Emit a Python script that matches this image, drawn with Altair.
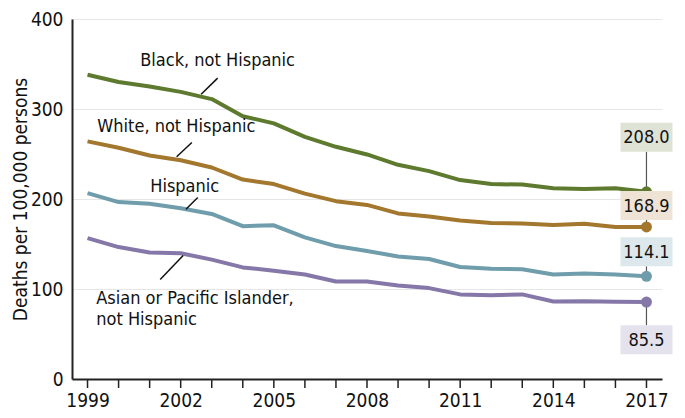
import altair as alt
import pandas as pd

years = list(range(1999, 2018))
label_years = [1999, 2002, 2005, 2008, 2011, 2014, 2017]
black = [338, 330, 325, 319, 311, 292, 284, 269, 258, 249.5, 238, 231, 221, 216.6, 216, 212, 211, 212, 208.0]
white = [264, 257, 248.4, 243, 235, 221.6, 216.6, 206, 197.6, 193.4, 184, 180.5, 176, 173.4, 172.7, 171, 172.6, 169, 168.9]
hisp = [206.6, 196.6, 194.8, 189.8, 183.4, 169.8, 170.8, 157.3, 147.7, 142.3, 136.2, 133.3, 124.4, 122.6, 122, 116.1, 117.2, 116.1, 114.1]
asian = [156.6, 146.6, 140.5, 139.8, 132.6, 124, 120.4, 116.1, 108.3, 108.3, 104, 101, 94, 93, 94, 86.1, 86.5, 85.8, 85.5]

series_names = ["Black, not Hispanic", "White, not Hispanic", "Hispanic", "Asian or Pacific Islander, not Hispanic"]
series_vals = [black, white, hisp, asian]
line_colors = ["#5e7a2f", "#a3772e", "#6f9dab", "#8577a8"]
box_colors = ["#dee3d5", "#eee3d4", "#dce8ec", "#e4e2ed"]
end_labels = ["208.0", "168.9", "114.1", "85.5"]
box_centers = [268.7, 192.7, 141.3, 43.5]

# series text labels (year, value)
lab_text = [["Black, not Hispanic"], ["White, not Hispanic"], ["Hispanic"],
            ["Asian or Pacific Islander,", "not Hispanic"]]
lab_x = [2003.19, 2001.86, 2002.13, 1999.28]
lab_y = [352.8, 280, 213.7, 87.5]
lab_align = ["center", "center", "center", "left"]
# leader lines
lead_x1 = [2003.19, 2002.36, 2002.55, 2002.08]
lead_y1 = [334.3, 262.7, 201.6, 137.3]
lead_x2 = [2002.66, 2001.87, 2002.17, 2001.34]
lead_y2 = [316.4, 247, 188.7, 110.5]

FONT = "'DejaVu Sans Condensed', 'Liberation Sans', sans-serif"
W, H = 590, 360
XDOM = [1998.5, 2017.5]
YDOM = [0, 400]
px_per_year = W / (XDOM[1] - XDOM[0])
px_per_unit = H / (YDOM[1] - YDOM[0])

rows = []
for n, vals in zip(series_names, series_vals):
    for yr, v in zip(years, vals):
        rows.append({"series": n, "year": yr, "value": v})
df = pd.DataFrame(rows)

xs = alt.Scale(domain=XDOM, nice=False, zero=False)
ys = alt.Scale(domain=YDOM, nice=False)
col = alt.Scale(domain=series_names, range=line_colors)

x_enc = alt.X("year:Q", scale=xs,
              axis=alt.Axis(values=label_years, format="d", labelOverlap=False,
                            grid=False, ticks=False,
                            domainColor="#222", domainWidth=2, labelFont=FONT, labelFontSize=19,
                            labelColor="#111", labelPadding=12, title=None, labelFlush=False))
y_enc = alt.Y("value:Q", scale=ys,
              axis=alt.Axis(values=[0, 100, 200, 300, 400], grid=True, gridColor="#e6e6e6",
                            gridWidth=1.2, ticks=False, domainColor="#222", domainWidth=2,
                            labelFont=FONT, labelFontSize=19, labelColor="#111", labelPadding=9,
                            labelOverlap=False,
                            title="Deaths per 100,000 persons", titleFont=FONT, titleFontSize=19,
                            titleFontWeight="normal", titleColor="#111", titleAngle=270,
                            titleAlign="center", titleBaseline="middle", titleX=-52, titleY=180))

lines = alt.Chart(df).mark_line(strokeWidth=4, strokeJoin="round").encode(
    x=x_enc, y=y_enc, color=alt.Color("series:N", scale=col, legend=None), detail="series:N")

tick_df = pd.DataFrame({"year": years})
ticks = alt.Chart(tick_df).mark_rule(color="#222", strokeWidth=1.5).encode(
    x=alt.X("year:Q", scale=xs), y=alt.value(H), y2=alt.value(H + 9))

end_df = df[df["year"] == 2017].copy()
points = alt.Chart(end_df).mark_circle(size=120, opacity=1).encode(
    x=alt.X("year:Q", scale=xs), y=alt.Y("value:Q", scale=ys),
    color=alt.Color("series:N", scale=col, legend=None))

# value boxes
half_w = 26 / px_per_year
half_h = 14.5 / px_per_unit
box_df = pd.DataFrame({
    "series": series_names, "label": end_labels, "fill": box_colors,
    "cy": box_centers, "end": [v[-1] for v in series_vals],
})
box_df["x1"] = 2017 - half_w
box_df["x2"] = 2017 + half_w
box_df["y1"] = box_df["cy"] - half_h
box_df["y2"] = box_df["cy"] + half_h
box_df["year"] = 2017
box_df["cy_edge"] = box_df.apply(lambda r: r["y1"] if r["cy"] > r["end"] else r["y2"], axis=1)

connectors = alt.Chart(box_df).mark_rule(color="#555", strokeWidth=1.2).encode(
    x=alt.X("year:Q", scale=xs), y=alt.Y("end:Q", scale=ys), y2="cy_edge:Q")
boxes = alt.Chart(box_df).mark_rect().encode(
    x=alt.X("x1:Q", scale=xs), x2="x2:Q", y=alt.Y("y1:Q", scale=ys), y2="y2:Q",
    fill=alt.Fill("fill:N", scale=None))
box_text = alt.Chart(box_df).mark_text(font=FONT, fontSize=18, color="#111", baseline="middle",
                                       align="center", dy=1).encode(
    x=alt.X("year:Q", scale=xs), y=alt.Y("cy:Q", scale=ys), text="label:N")

lab_df = pd.DataFrame({"text": lab_text, "x": lab_x, "y": lab_y, "align": lab_align})
lab_center = alt.Chart(lab_df[lab_df["align"] == "center"]).mark_text(
    font=FONT, fontSize=18, color="#111", align="center", baseline="middle").encode(
    x=alt.X("x:Q", scale=xs), y=alt.Y("y:Q", scale=ys), text="text")
lab_left = alt.Chart(lab_df[lab_df["align"] == "left"]).mark_text(
    font=FONT, fontSize=18, color="#111", align="left", baseline="top", lineHeight=21, dy=-10).encode(
    x=alt.X("x:Q", scale=xs), y=alt.Y("y:Q", scale=ys), text="text")

lead_df = pd.DataFrame({"x1": lead_x1, "y1": lead_y1, "x2": lead_x2, "y2": lead_y2})
leaders = alt.Chart(lead_df).mark_rule(color="#111", strokeWidth=1.5).encode(
    x=alt.X("x1:Q", scale=xs), y=alt.Y("y1:Q", scale=ys), x2="x2:Q", y2="y2:Q")

chart = alt.layer(lines, ticks, leaders, lab_center, lab_left, connectors, points, boxes, box_text).properties(
    width=W, height=H,
    background="white",
    autosize=alt.AutoSizeParams(type="none"),
    padding={"left": 64, "top": 11, "right": 15, "bottom": 31},
).configure_view(stroke=None)

chart.save("out.html", embed_options={"renderer": "svg", "actions": False})
